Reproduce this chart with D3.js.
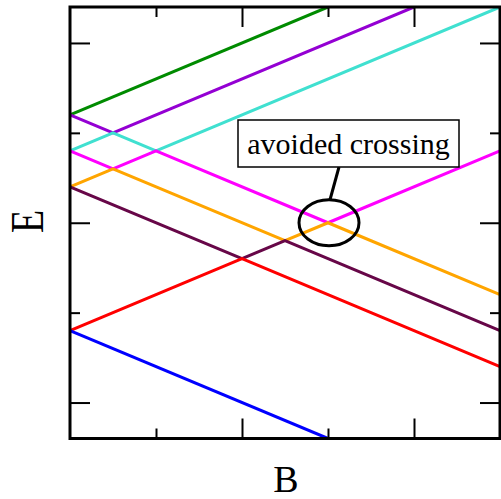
<!DOCTYPE html>
<html>
<head>
<meta charset="utf-8">
<script src="https://cdn.jsdelivr.net/npm/d3@7"></script>
<style>
  html, body { margin: 0; padding: 0; background: #fff; }
  svg { display: block; }
  text { font-family: "Liberation Serif", "Times New Roman", serif; fill: #000; }
</style>
</head>
<body>
<svg id="chart" width="501" height="499"></svg>
<script>
// Energy levels E(B): each adiabatic level as its list of vertices [B, E]
const levelNames = ["level1", "level2", "level3", "level4", "level5", "level6", "level7", "level8"];
const level1 = [[0, 1.2], [3, 2.4]];
const level2 = [[0, 1.2], [0.5, 1.0], [4, 2.4]];
const level3 = [[0, 0.8], [0.5, 1.0], [1, 0.8], [5, 2.4]];
const level4 = [[0, 0.8], [0.5, 0.6], [1, 0.8], [3, 0.0], [5, 0.8]];
const level5 = [[0, 0.4], [0.5, 0.6], [2.5, -0.2], [3, 0.0], [5, -0.8]];
const level6 = [[0, 0.4], [2, -0.4], [2.5, -0.2], [5, -1.2]];
const level7 = [[0, -1.2], [2, -0.4], [5, -1.6]];
const level8 = [[0, -1.2], [3, -2.4]];
const levels = [level1, level2, level3, level4, level5, level6, level7, level8];
const levelColors = ["#008b00", "#9400d3", "#40e0d0", "#ff00ff", "#ffa500", "#670748", "#ff0000", "#0000ff"];

// Axis ranges and ticks
const bDomain = [0, 5];
const eDomain = [-2.4, 2.4];
const bMajorTicks = [2, 4];
const bMinorTicks = [1, 3];
const eMajorTicks = [-2, 0, 2];
const eMinorTicks = [-1, 1];

// Annotation
const crossingPoint = [3, 0];
const noteText = "avoided crossing";

const plotLeft = 70, plotRight = 500, plotTop = 7, plotBottom = 438.5;
const svg = d3.select("#chart");
const x = d3.scaleLinear().domain(bDomain).range([plotLeft, plotRight]);
const y = d3.scaleLinear().domain(eDomain).range([plotBottom, plotTop]);

svg.append("defs").append("clipPath").attr("id", "plotClip")
  .append("rect").attr("x", plotLeft).attr("y", plotTop)
  .attr("width", plotRight - plotLeft).attr("height", plotBottom - plotTop);

// Level curves
const line = d3.line().x(d => x(d[0])).y(d => y(d[1]));
svg.append("g").attr("clip-path", "url(#plotClip)")
  .selectAll("path").data(levels).join("path")
  .attr("d", line)
  .attr("fill", "none")
  .attr("stroke", (d, i) => levelColors[i])
  .attr("stroke-width", 3)
  .attr("stroke-linejoin", "miter");

// Inward ticks on all four sides
function tickAxis(axisFn, scale, values, size, transform) {
  const g = svg.append("g").attr("transform", transform)
    .call(axisFn(scale).tickValues(values).tickSize(size).tickFormat(""));
  g.select(".domain").remove();
  g.selectAll(".tick line").attr("stroke", "#000").attr("stroke-width", 2);
}
tickAxis(d3.axisBottom, x, bMajorTicks, -20, `translate(0,${plotBottom})`);
tickAxis(d3.axisBottom, x, bMinorTicks, -10, `translate(0,${plotBottom})`);
tickAxis(d3.axisTop, x, bMajorTicks, -20, `translate(0,${plotTop})`);
tickAxis(d3.axisTop, x, bMinorTicks, -10, `translate(0,${plotTop})`);
tickAxis(d3.axisLeft, y, eMajorTicks, -20, `translate(${plotLeft},0)`);
tickAxis(d3.axisLeft, y, eMinorTicks, -10, `translate(${plotLeft},0)`);
tickAxis(d3.axisRight, y, eMajorTicks, -20, `translate(${plotRight},0)`);
tickAxis(d3.axisRight, y, eMinorTicks, -10, `translate(${plotRight},0)`);

// Frame
svg.append("rect")
  .attr("x", plotLeft).attr("y", plotTop)
  .attr("width", plotRight - plotLeft).attr("height", plotBottom - plotTop)
  .attr("fill", "none").attr("stroke", "#000").attr("stroke-width", 3);

// Axis titles
svg.append("text")
  .attr("x", 286).attr("y", 491.5)
  .attr("text-anchor", "middle").attr("font-size", 38)
  .text("B");
svg.append("text")
  .attr("transform", `translate(43,221.5) rotate(-90) scale(0.95,1.18)`)
  .attr("text-anchor", "middle").attr("font-size", 40)
  .text("E");

// Avoided-crossing callout
const cx = x(crossingPoint[0]) + 1, cy = y(crossingPoint[1]);
svg.append("ellipse")
  .attr("cx", cx).attr("cy", cy).attr("rx", 30).attr("ry", 23)
  .attr("fill", "none").attr("stroke", "#000").attr("stroke-width", 3);
svg.append("line")
  .attr("x1", cx + 10).attr("y1", 167)
  .attr("x2", cx + 1).attr("y2", cy - 23)
  .attr("stroke", "#000").attr("stroke-width", 3);
svg.append("rect")
  .attr("x", 238).attr("y", 120).attr("width", 221).attr("height", 47)
  .attr("fill", "#fff").attr("stroke", "#000").attr("stroke-width", 1.5);
svg.append("text")
  .attr("x", 348.5).attr("y", 154)
  .attr("text-anchor", "middle").attr("font-size", 30)
  .text(noteText);
</script>
</body>
</html>
